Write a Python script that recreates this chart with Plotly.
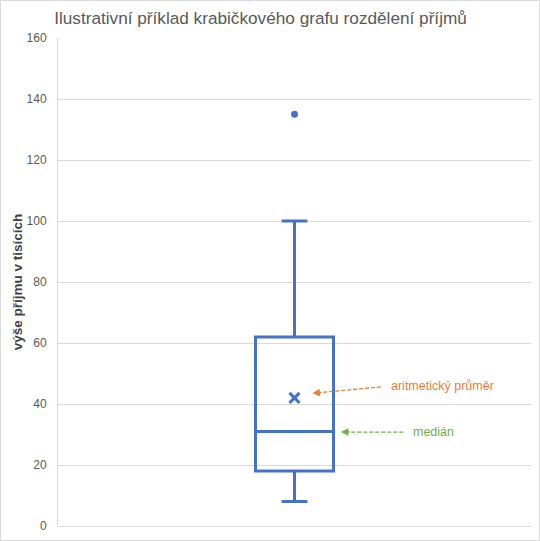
import plotly.graph_objects as go

# ---- data ----
categories = [0]
q1_vals = [18]
median_vals = [31]
q3_vals = [62]
lower_fence = [8]
upper_fence = [100]
mean_vals = [42]
outlier_vals = [135]
y_ticks = [0, 20, 40, 60, 80, 100, 120, 140, 160]

title_text = "Ilustrativní příklad krabičkového grafu rozdělení příjmů"
y_title = "výše příjmu v tisících"
mean_label = "aritmetický průměr"
median_label = "medián"

BLUE = "#4472C4"
ORANGE = "#ED7D31"
GREEN = "#70AD47"
GRID = "#D9D9D9"
FONT = "Liberation Sans, Arial, sans-serif"

fig = go.Figure()
fig.add_trace(go.Box(
    x=categories, q1=q1_vals, median=median_vals, q3=q3_vals,
    lowerfence=lower_fence, upperfence=upper_fence,
    boxpoints=False, width=0.165, whiskerwidth=0.33,
    line=dict(color=BLUE, width=3), fillcolor="rgba(0,0,0,0)",
    showlegend=False, hoverinfo="skip",
))
fig.add_trace(go.Scatter(
    x=categories, y=mean_vals, mode="markers",
    marker=dict(symbol="x-thin", size=10, line=dict(color=BLUE, width=3), color=BLUE),
    showlegend=False, hoverinfo="skip",
))
fig.add_trace(go.Scatter(
    x=categories * len(outlier_vals), y=outlier_vals, mode="markers",
    marker=dict(symbol="circle", size=7, color=BLUE),
    showlegend=False, hoverinfo="skip",
))

m = mean_vals[0]
md = median_vals[0]
shapes = [
    # dashed arrow lines
    dict(type="line", xref="x", yref="y", x0=0.183, y0=m + 3.6, x1=0.05, y1=m + 1.7,
         line=dict(color=ORANGE, width=1.3, dash="4px,2px")),
    dict(type="line", xref="x", yref="y", x0=0.230, y0=md - 0.2, x1=0.11, y1=md - 0.2,
         line=dict(color=GREEN, width=1.3, dash="4px,2px")),
    # outer chart border
    dict(type="rect", xref="paper", yref="paper",
         x0=(0.5 - 58) / 473, x1=(539.5 - 58) / 473,
         y0=(526 - 540.5) / 488, y1=(526 - 0.5) / 488,
         line=dict(color=GRID, width=1), layer="below"),
]

annotations = [
    dict(x=0.038, y=m + 1.5, xref="x", yref="y", ax=10, ay=-1, axref="pixel", ayref="pixel",
         text="", showarrow=True, arrowhead=2, arrowsize=1, arrowwidth=1.5, arrowcolor=ORANGE),
    dict(x=0.098, y=md - 0.2, xref="x", yref="y", ax=10, ay=0, axref="pixel", ayref="pixel",
         text="", showarrow=True, arrowhead=2, arrowsize=1, arrowwidth=1.5, arrowcolor=GREEN),
    dict(x=0.2, y=m + 4.0, xref="x", yref="y", text=mean_label, showarrow=False,
         xanchor="left", yanchor="middle", font=dict(family=FONT, size=12.5, color=ORANGE)),
    dict(x=0.247, y=md - 0.2, xref="x", yref="y", text=median_label, showarrow=False,
         xanchor="left", yanchor="middle", font=dict(family=FONT, size=12.5, color=GREEN)),
]

fig.update_layout(
    width=540, height=541,
    margin=dict(l=58, r=9, t=38, b=15),
    paper_bgcolor="white", plot_bgcolor="white",
    font=dict(family=FONT, color="#595959"),
    title=dict(text=title_text, x=260.5 / 540, xanchor="center", y=1 - 18 / 541, yanchor="middle",
               font=dict(family=FONT, size=17.2, color="#595959")),
    xaxis=dict(range=[-0.5, 0.5], showticklabels=False, showgrid=False, zeroline=False,
               showline=False, fixedrange=True),
    yaxis=dict(range=[0, 160], tickvals=y_ticks, showgrid=True, gridcolor=GRID, gridwidth=1,
               zeroline=True, zerolinecolor=GRID, zerolinewidth=1,
               showline=True, linecolor=GRID, linewidth=1,
               ticks="", ticklabelstandoff=8,
               tickfont=dict(family=FONT, size=12, color="#595959"),
               title=dict(text="<b>" + y_title + "</b>", standoff=0,
                          font=dict(family=FONT, size=13.5, color="#404040"))),
    shapes=shapes, annotations=annotations,
)

fig.write_html("out.html", config={"displayModeBar": False},
               post_script="document.body.style.margin='0';document.body.style.overflow='hidden';")
